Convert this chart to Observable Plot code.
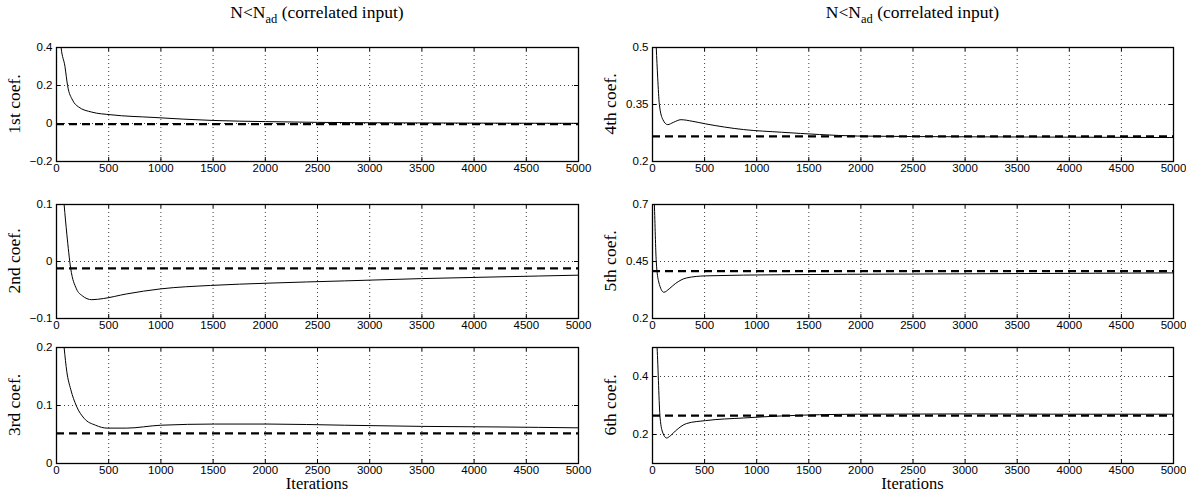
<!DOCTYPE html>
<html><head><meta charset="utf-8">
<script src="https://cdn.jsdelivr.net/npm/d3@7"></script>
<script src="https://cdn.jsdelivr.net/npm/@observablehq/plot@0.6"></script>
<style>
body{margin:0;background:#fff;}
#root{position:relative;width:1186px;height:493px;overflow:hidden;font-family:"Liberation Serif","Times New Roman",serif;color:#000;}
.title{position:absolute;font-size:17.5px;line-height:1;white-space:nowrap;transform:translateX(-50%);}
.title sub{font-size:12.5px;vertical-align:-5px;line-height:0;}
.ylab{position:absolute;font-size:17.5px;line-height:1;white-space:nowrap;transform:translate(-50%,-50%) rotate(-90deg);}
.xlab{position:absolute;font-size:16.5px;line-height:1;white-space:nowrap;transform:translateX(-50%);}
.panel{position:absolute;}
</style></head><body><div id="root"></div><script>
// ---- data ----
const xTicks = [0,500,1000,1500,2000,2500,3000,3500,4000,4500,5000];

const iter1 = [0,20,44,81,106,154,209,338,521,925,1500,2000,2500,3000,4000,5000];
const coef1 = [0.7,0.55,0.4,0.3,0.2,0.123,0.088,0.06,0.046,0.032,0.016,0.01,0.006,0.004,0.002,0.001];
const target1 = -0.003;

const iter2 = [0,40,73,99,136,191,246,338,448,668,999,1476,2026,2761,3495,4229,5000];
const coef2 = [0.3,0.18,0.1,0.048,-0.012,-0.048,-0.06,-0.067,-0.065,-0.057,-0.048,-0.042,-0.038,-0.034,-0.030,-0.027,-0.024];
const target2 = -0.012;

const iter3 = [0,40,73,99,136,191,264,374,485,668,999,1513,2026,2761,3495,4229,5000];
const coef3 = [0.4,0.27,0.2,0.158,0.128,0.099,0.078,0.066,0.061,0.061,0.066,0.068,0.068,0.066,0.064,0.063,0.0615];
const target3 = 0.052;

const iter4 = [0,20,36,50,66,100,146,200,273,380,510,875,1239,1603,1968,3000,4000,5000];
const coef4 = [0.75,0.6,0.5,0.42,0.35,0.31,0.297,0.303,0.31,0.306,0.299,0.284,0.277,0.271,0.267,0.265,0.264,0.263];
const target4 = 0.266;

const iter5 = [0,10,18,36,60,109,160,219,328,510,1239,2500,3500,5000];
const coef5 = [0.9,0.8,0.7,0.45,0.36,0.315,0.33,0.353,0.378,0.387,0.392,0.395,0.397,0.40];
const target5 = 0.408;

const iter6 = [0,30,44,73,100,135,170,219,328,510,875,1239,1968,3061,4000,5000];
const coef6 = [0.7,0.58,0.5,0.257,0.205,0.188,0.195,0.212,0.238,0.248,0.257,0.264,0.27,0.271,0.27,0.27];
const target6 = 0.265;

const panelNames = ["1st coef.","2nd coef.","3rd coef.","4th coef.","5th coef.","6th coef."];
const yDomains = [[-0.2,0.4],[-0.1,0.1],[0,0.2],[0.2,0.5],[0.2,0.7],[0.1,0.5]];
const yTickSets = [[-0.2,0,0.2,0.4],[-0.1,0,0.1],[0,0.1,0.2],[0.2,0.35,0.5],[0.2,0.45,0.7],[0.2,0.4]];
const iters = [iter1,iter2,iter3,iter4,iter5,iter6];
const coefs = [coef1,coef2,coef3,coef4,coef5,coef6];
const targets = [target1,target2,target3,target4,target5,target6];
const titleText = "N<N";
const titleSub = "ad";
const titleRest = " (correlated input)";
const xLabel = "Iterations";

// ---- layout ----
const colLeft = [56, 652], colRight = [578, 1173];
const rowTop = [47, 204, 347], rowBottom = [161, 318, 463];
const mL = 44, mR = 16, mT = 6, mB = 20;

const root = document.getElementById("root");
const fmtY = d => (d < 0 ? "\u2212" + String(-d) : String(d));

panelNames.forEach((name, i) => {
  const col = i < 3 ? 0 : 1, row = i % 3;
  const fw = colRight[col] - colLeft[col];
  const fh = rowBottom[row] - rowTop[row];
  const data = iters[i].map((x, k) => ({x, y: coefs[i][k]}));
  const yt = yTickSets[i];
  const chart = Plot.plot({
    width: fw + mL + mR,
    height: fh + mT + mB,
    marginLeft: mL, marginRight: mR, marginTop: mT, marginBottom: mB,
    style: {fontFamily: "'Liberation Sans', Arial, sans-serif", fontSize: "11.5px", color: "#000", background: "transparent", overflow: "visible"},
    x: {domain: [0, 5000], label: null},
    y: {domain: yDomains[i], label: null},
    marks: [
      Plot.gridX(xTicks, {stroke: "#000", strokeOpacity: 0.75, strokeDasharray: "1,3"}),
      Plot.gridY(yt, {stroke: "#000", strokeOpacity: 0.75, strokeDasharray: "1,3"}),
      Plot.tickX(xTicks, {x: d => d, stroke: "#000", insetTop: fh - 4}),
      Plot.tickX(xTicks, {x: d => d, stroke: "#000", insetBottom: fh - 4}),
      Plot.tickY(yt, {y: d => d, stroke: "#000", insetRight: fw - 4}),
      Plot.tickY(yt, {y: d => d, stroke: "#000", insetLeft: fw - 4}),
      Plot.ruleY([targets[i]], {stroke: "#000", strokeWidth: 2.2, strokeDasharray: "8,5"}),
      Plot.line(data, {x: "x", y: "y", stroke: "#000", strokeWidth: 1, curve: "monotone-x", clip: true}),
      Plot.frame({stroke: "#000", strokeWidth: 1.3}),
      Plot.axisX(xTicks, {anchor: "bottom", tickSize: 0, tickPadding: 2, tickFormat: d => String(d), label: null}),
      Plot.axisY(yt, {anchor: "left", tickSize: 0, tickPadding: 4, tickFormat: fmtY, label: null})
    ]
  });
  chart.classList.add("panel");
  chart.style.left = (colLeft[col] - mL) + "px";
  chart.style.top = (rowTop[row] - mT) + "px";
  root.appendChild(chart);

  const yl = document.createElement("div");
  yl.className = "ylab";
  yl.textContent = name;
  yl.style.left = (colLeft[col] - 41) + "px";
  yl.style.top = ((rowTop[row] + rowBottom[row]) / 2) + "px";
  root.appendChild(yl);
});

[0, 1].forEach(col => {
  const t = document.createElement("div");
  t.className = "title";
  t.appendChild(document.createTextNode(titleText));
  const s = document.createElement("sub"); s.textContent = titleSub; t.appendChild(s);
  t.appendChild(document.createTextNode(titleRest));
  t.style.left = ((colLeft[col] + colRight[col]) / 2) + "px";
  t.style.top = "4px";
  root.appendChild(t);

  const xl = document.createElement("div");
  xl.className = "xlab";
  xl.textContent = xLabel;
  xl.style.left = ((colLeft[col] + colRight[col]) / 2) + "px";
  xl.style.top = "476px";
  root.appendChild(xl);
});
</script></body></html>
